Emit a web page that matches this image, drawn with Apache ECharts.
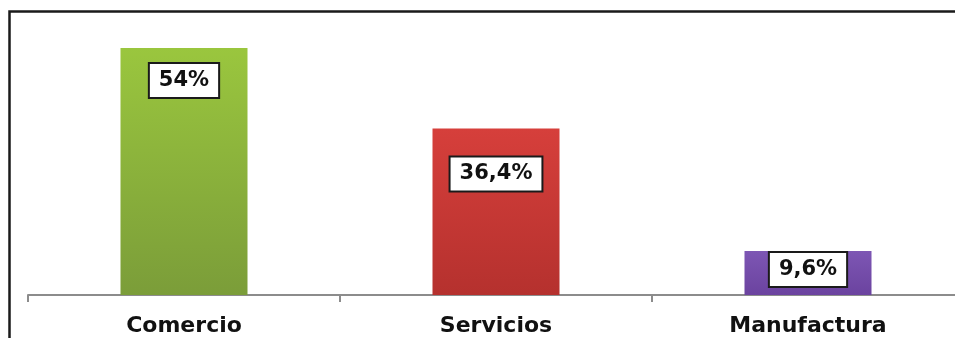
<!DOCTYPE html>
<html>
<head>
<meta charset="utf-8">
<script src="https://cdn.jsdelivr.net/npm/echarts@6/dist/echarts.min.js"></script>
<style>
  html, body { margin: 0; padding: 0; background: #fff; overflow: hidden; width: 955px; height: 338px; }
  #chart { width: 990px; height: 338px; }
</style>
</head>
<body>
<div id="chart"></div>
<script>
// Sector share of businesses (%)
const categories = ['Comercio', 'Servicios', 'Manufactura'];
const shares = [54, 36.4, 9.6];

// Bar fills: top colour, bottom colour
const barTop = ['#9ac63e', '#d63f3b', '#7d56b4'];
const barBottom = ['#7b9d39', '#b5312e', '#6b439f'];
// Gap between the bar top and its value box
const labelGap = [16, 29, 2];

function pct(v) {
  return String(v).replace('.', ',') + '%';
}

const chart = echarts.init(document.getElementById('chart'));

const barData = shares.map((v, i) => ({
  value: v,
  itemStyle: {
    color: new echarts.graphic.LinearGradient(0, 0, 0, 1, [
      { offset: 0, color: barTop[i] },
      { offset: 1, color: barBottom[i] }
    ])
  },
  label: { distance: labelGap[i] }
}));

chart.setOption({
  animation: false,
  backgroundColor: '#ffffff',
  grid: { left: 28, width: 936, top: 48, bottom: 43 },
  xAxis: {
    type: 'category',
    data: categories,
    axisLine: { lineStyle: { color: '#8c8c8c', width: 2 } },
    axisTick: { show: true, length: 7, lineStyle: { color: '#8c8c8c', width: 2 } },
    axisLabel: {
      margin: 20,
      fontFamily: 'DejaVu Sans',
      fontWeight: 'bold',
      fontSize: 22,
      lineHeight: 22,
      color: '#111'
    }
  },
  yAxis: {
    type: 'value',
    min: 0,
    max: 54,
    show: false,
    splitLine: { show: false }
  },
  series: [{
    type: 'bar',
    data: barData,
    barWidth: 127,
    label: {
      show: true,
      position: 'insideTop',
      formatter: p => pct(p.value),
      fontFamily: 'DejaVu Sans',
      fontWeight: 'bold',
      fontSize: 21,
      lineHeight: 21,
      color: '#111',
      backgroundColor: '#ffffff',
      borderColor: '#1a1a1a',
      borderWidth: 2,
      padding: [6, 9, 6, 9]
    }
  }],
  graphic: [{
    type: 'rect',
    shape: { x: 9.5, y: 11.5, width: 980, height: 360 },
    style: { fill: 'none', stroke: '#1a1a1a', lineWidth: 2.5 },
    silent: true,
    z: 100
  }]
});
</script>
</body>
</html>
